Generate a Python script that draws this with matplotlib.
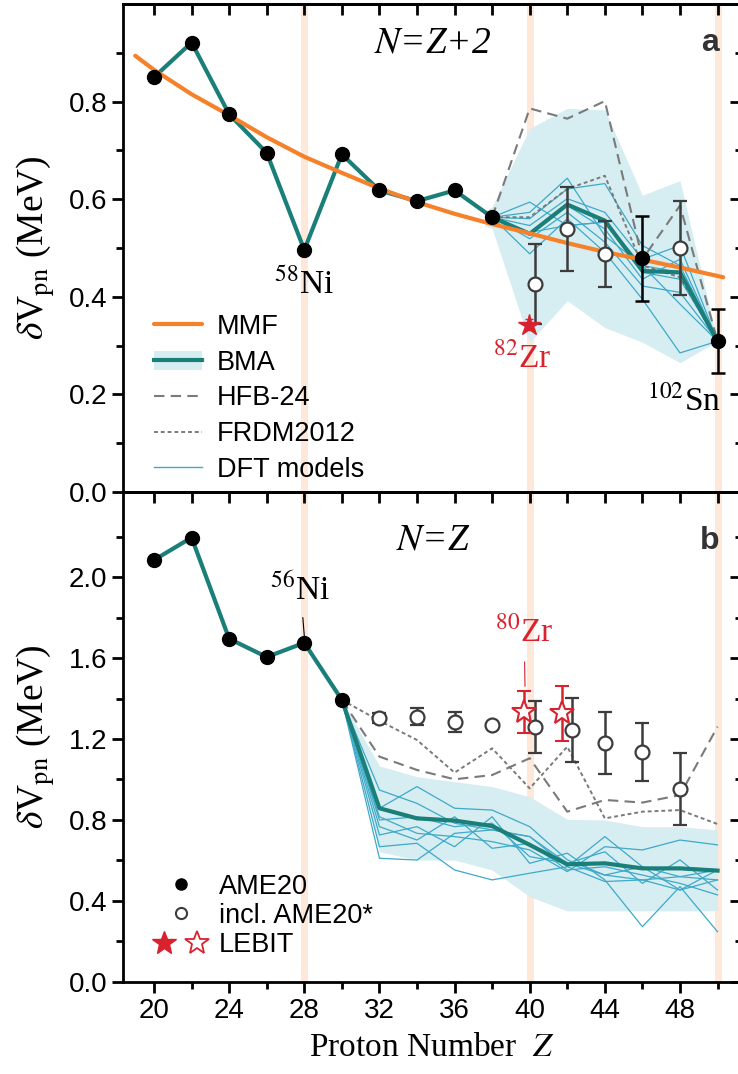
import numpy as np
import matplotlib.pyplot as plt
from matplotlib.patches import Patch
from matplotlib.lines import Line2D
from matplotlib.legend_handler import HandlerTuple
from matplotlib.ticker import MultipleLocator, FixedLocator

plt.rcParams['font.family'] = ['Liberation Sans', 'DejaVu Sans']
plt.rcParams['mathtext.fontset'] = 'stix'

# ---------------- panel a : N = Z + 2 ----------------
z_ame_a = [20, 22, 24, 26, 28, 30, 32, 34, 36, 38]
v_ame_a = [0.850, 0.921, 0.774, 0.695, 0.496, 0.692, 0.618, 0.596, 0.618, 0.563]
z_ame_a_err = [46, 50]
v_ame_a_err = [0.479, 0.309]
e_ame_a_err = [0.087, 0.066]
z_open_a = [40.28, 42, 44, 48]
v_open_a = [0.426, 0.538, 0.488, 0.500]
e_open_a = [0.082, 0.086, 0.067, 0.097]
z_lebit_a = [39.95]
v_lebit_a = [0.343]
e_lebit_a = [0.012]

z_bma_a = [20, 22, 24, 26, 28, 30, 32, 34, 36, 38, 40, 42, 44, 46, 48, 50]
v_bma_a = [0.850, 0.921, 0.774, 0.695, 0.496, 0.692, 0.618, 0.596, 0.618, 0.563,
           0.529, 0.589, 0.556, 0.453, 0.450, 0.309]
z_band_a = [37.6, 38, 40, 42, 44, 46, 48, 50]
lo_band_a = [0.545, 0.540, 0.307, 0.392, 0.337, 0.307, 0.265, 0.309]
hi_band_a = [0.575, 0.585, 0.745, 0.786, 0.783, 0.608, 0.638, 0.309]

z_mmf = [19.0, 20, 22, 24, 26, 28, 30, 32, 34, 36, 38, 40, 42, 44, 46, 48, 50.3]
v_mmf = [0.894, 0.865, 0.815, 0.772, 0.727, 0.687, 0.654, 0.622, 0.594, 0.570,
         0.549, 0.530, 0.510, 0.492, 0.476, 0.460, 0.440]

z_mod_a = [38, 40, 42, 44, 46, 48, 50]
hfb_a = [0.563, 0.786, 0.765, 0.801, 0.477, 0.587, 0.309]
frdm_a = [0.563, 0.563, 0.621, 0.648, 0.464, 0.440, 0.309]
dft_a = [
    [0.563, 0.594, 0.546, 0.553, 0.450, 0.436, 0.309],
    [0.563, 0.573, 0.643, 0.525, 0.464, 0.450, 0.309],
    [0.563, 0.560, 0.621, 0.632, 0.505, 0.464, 0.309],
    [0.563, 0.546, 0.601, 0.573, 0.477, 0.505, 0.309],
    [0.563, 0.532, 0.587, 0.539, 0.436, 0.477, 0.309],
    [0.563, 0.519, 0.573, 0.512, 0.422, 0.409, 0.309],
    [0.563, 0.488, 0.560, 0.491, 0.395, 0.285, 0.309],
    [0.563, 0.532, 0.546, 0.553, 0.464, 0.385, 0.309],
]

# ---------------- panel b : N = Z ----------------
z_ame_b = [20, 22, 24, 26, 28, 30]
v_ame_b = [2.084, 2.195, 1.695, 1.605, 1.675, 1.393]
z_open_b = [32, 34, 36, 38, 40.28, 42.25, 44, 46, 48]
v_open_b = [1.302, 1.310, 1.285, 1.269, 1.258, 1.244, 1.179, 1.137, 0.953]
e_open_b = [0.025, 0.042, 0.050, 0.0, 0.128, 0.158, 0.153, 0.142, 0.177]
z_lebit_b = [39.7, 41.7]
v_lebit_b = [1.335, 1.327]
e_lebit_b = [0.103, 0.135]

z_bma_b = [20, 22, 24, 26, 28, 30, 32, 34, 36, 38, 40, 42, 44, 46, 48, 50]
v_bma_b = [2.084, 2.195, 1.695, 1.605, 1.675, 1.393, 0.858, 0.808, 0.797, 0.770,
           0.677, 0.581, 0.586, 0.561, 0.561, 0.550]
z_mod_b = [30, 32, 34, 36, 38, 40, 42, 44, 46, 48, 50]
lo_band_b = [1.393, 0.643, 0.602, 0.602, 0.553, 0.421, 0.351, 0.351, 0.351, 0.351, 0.351]
hi_band_b = [1.393, 1.067, 1.014, 0.989, 0.965, 0.915, 0.803, 0.800, 0.767, 0.767, 0.751]
hfb_b = [1.393, 1.113, 1.047, 1.001, 1.022, 1.105, 0.841, 0.899, 0.886, 0.923, 1.261]
frdm_b = [1.393, 1.290, 1.195, 1.034, 1.154, 0.956, 1.162, 0.808, 0.841, 0.849, 0.780]
dft_b = [
    [1.393, 0.948, 0.882, 0.784, 0.751, 0.718, 0.569, 0.718, 0.569, 0.454, 0.504],
    [1.393, 0.858, 0.965, 0.858, 0.849, 0.767, 0.603, 0.528, 0.504, 0.520, 0.553],
    [1.393, 0.816, 0.734, 0.718, 0.693, 0.652, 0.545, 0.668, 0.652, 0.701, 0.677],
    [1.393, 0.800, 0.816, 0.767, 0.784, 0.619, 0.586, 0.643, 0.487, 0.603, 0.454],
    [1.393, 0.767, 0.701, 0.816, 0.660, 0.685, 0.553, 0.569, 0.528, 0.487, 0.430],
    [1.393, 0.726, 0.767, 0.668, 0.816, 0.586, 0.636, 0.504, 0.273, 0.471, 0.248],
    [1.393, 0.668, 0.685, 0.553, 0.504, 0.537, 0.569, 0.496, 0.504, 0.454, 0.553],
    [1.393, 0.611, 0.602, 0.734, 0.751, 0.718, 0.586, 0.528, 0.569, 0.520, 0.504],
]

magic_z = [28, 40, 50]
yticks_a = [0.0, 0.2, 0.4, 0.6, 0.8]
yminor_a = [0.1, 0.3, 0.5, 0.7, 0.9]
yticks_b = [0.0, 0.4, 0.8, 1.2, 1.6, 2.0]
yminor_b = [0.2, 0.6, 1.0, 1.4, 1.8, 2.2]

# colours
c_bma = '#1b7f79'
c_band = '#d6edf1'
c_dft = '#3fa9c9'
c_mmf = '#f5822a'
c_mod = '#7a7a7a'
c_red = '#d8232f'
c_magic = '#fde8da'
c_err = '#3c3c3c'

serif = 'Liberation Serif'
fs = 20
fs_leg = 19.5

fig = plt.figure(figsize=(7.38, 10.74), dpi=100)
ax_a = fig.add_axes([0.1667, 0.5419, 0.8374, 0.4544])
ax_b = fig.add_axes([0.1667, 0.0857, 0.8374, 0.4562], sharex=ax_a)

for ax in (ax_a, ax_b):
    for zm in magic_z:
        ax.axvline(zm, color=c_magic, lw=5, zorder=0)

# ---- panel a ----
ax_a.fill_between(z_band_a, lo_band_a, hi_band_a, color=c_band, lw=0, zorder=1)
for d in dft_a:
    ax_a.plot(z_mod_a, d, color=c_dft, lw=0.9, zorder=2)
ax_a.plot(z_mod_a, hfb_a, color=c_mod, lw=1.5, ls=(0, (5, 3)), zorder=2)
ax_a.plot(z_mod_a, frdm_a, color=c_mod, lw=1.4, ls=(0, (2, 1.5)), zorder=2)
ax_a.plot(z_bma_a, v_bma_a, color=c_bma, lw=3, zorder=3)
ax_a.plot(z_mmf, v_mmf, color=c_mmf, lw=3, zorder=4, solid_capstyle='round')
ax_a.errorbar(z_open_a, v_open_a, yerr=e_open_a, fmt='o', ms=10, mfc='white',
              mec=c_err, mew=1.6, ecolor=c_err, elinewidth=1.8, capsize=5,
              capthick=1.8, zorder=5)
ax_a.errorbar(z_ame_a_err, v_ame_a_err, yerr=e_ame_a_err, fmt='o', ms=10, color='black',
              elinewidth=1.8, capsize=5, capthick=1.8, zorder=6)
ax_a.plot(z_ame_a, v_ame_a, 'o', ms=10, color='black', zorder=6)
ax_a.errorbar(z_lebit_a, v_lebit_a, yerr=e_lebit_a, fmt='*', ms=16, color=c_red,
              elinewidth=1.5, capsize=3, zorder=7)

ax_a.text(34.85, 0.92, r'$N$=Z+2', fontsize=27, family=serif, ha='center', va='center',
          style='italic')
ax_a.text(49.6, 0.92, 'a', fontsize=23, fontweight='bold', color='#333333',
          ha='center', va='center')
ax_a.text(28.0, 0.425, r'$^{58}$Ni', fontsize=24, family=serif, ha='center', va='center')
ax_a.text(39.6, 0.275, r'$^{82}$Zr', fontsize=24, family=serif, ha='center', va='center',
          color=c_red)
ax_a.text(50.2, 0.185, r'$^{102}$Sn', fontsize=24, family=serif, ha='right', va='center')

h_band = Patch(facecolor=c_band, edgecolor='none')
h_bma = Line2D([], [], color=c_bma, lw=3)
handles_a = [Line2D([], [], color=c_mmf, lw=3, solid_capstyle='round'),
             (h_band, h_bma),
             Line2D([], [], color=c_mod, lw=1.5, ls=(0, (5, 3))),
             Line2D([], [], color=c_mod, lw=1.4, ls=(0, (2, 1.5))),
             Line2D([], [], color=c_dft, lw=1)]
labels_a = ['MMF', 'BMA', 'HFB-24', 'FRDM2012', 'DFT models']
ax_a.legend(handles_a, labels_a, loc='lower left', bbox_to_anchor=(0.02, -0.02),
            frameon=False, fontsize=fs_leg, handlelength=1.75, handletextpad=0.55,
            labelspacing=0.36, borderpad=0.2,
            handler_map={tuple: HandlerTuple(ndivide=1)})

ax_a.set_ylim(0, 1.0)
ax_a.yaxis.set_major_locator(FixedLocator(yticks_a))
ax_a.yaxis.set_minor_locator(FixedLocator(yminor_a))
ax_a.set_ylabel(r'$\delta$V$_{\rm pn}$ (MeV)', fontsize=27, family=serif, labelpad=8)

# ---- panel b ----
ax_b.fill_between(z_mod_b, lo_band_b, hi_band_b, color=c_band, lw=0, zorder=1)
for d in dft_b:
    ax_b.plot(z_mod_b, d, color=c_dft, lw=0.9, zorder=2)
ax_b.plot(z_mod_b, hfb_b, color=c_mod, lw=1.5, ls=(0, (5, 3)), zorder=2)
ax_b.plot(z_mod_b, frdm_b, color=c_mod, lw=1.4, ls=(0, (2, 1.5)), zorder=2)
ax_b.plot(z_bma_b, v_bma_b, color=c_bma, lw=3, zorder=3)
ax_b.errorbar(z_open_b, v_open_b, yerr=e_open_b, fmt='o', ms=10, mfc='white',
              mec=c_err, mew=1.6, ecolor=c_err, elinewidth=1.8, capsize=5,
              capthick=1.8, zorder=5)
ax_b.plot(z_ame_b, v_ame_b, 'o', ms=10, color='black', zorder=6)
ax_b.errorbar(z_lebit_b, v_lebit_b, yerr=e_lebit_b, fmt='*', ms=18, mfc='white',
              mec=c_red, mew=1.5, ecolor=c_red, elinewidth=1.8, capsize=5,
              capthick=1.8, zorder=7)

ax_b.text(34.85, 2.18, r'$N$=Z', fontsize=27, family=serif, ha='center', va='center',
          style='italic')
ax_b.text(49.6, 2.18, 'b', fontsize=23, fontweight='bold', color='#333333',
          ha='center', va='center')
ax_b.annotate(r'$^{56}$Ni', xy=(28, 1.71), xytext=(27.8, 1.94), fontsize=24,
              family=serif, ha='center', va='center',
              arrowprops=dict(arrowstyle='-', color='black', lw=0.8, shrinkA=6, shrinkB=0))
ax_b.annotate(r'$^{80}$Zr', xy=(39.75, 1.46), xytext=(39.7, 1.73), fontsize=24,
              family=serif, ha='center', va='center', color=c_red,
              arrowprops=dict(arrowstyle='-', color=c_red, lw=0.8, shrinkA=8, shrinkB=0))

handles_b = [Line2D([], [], marker='o', ls='none', ms=8, color='black'),
             Line2D([], [], marker='o', ls='none', ms=8, mfc='white', mec=c_err, mew=1.5),
             (Line2D([], [], marker='*', ls='none', ms=18, color=c_red),
              Line2D([], [], marker='*', ls='none', ms=18, mfc='white', mec=c_red, mew=1.3))]
labels_b = ['AME20', 'incl. AME20*', 'LEBIT']
ax_b.legend(handles_b, labels_b, loc='lower left', bbox_to_anchor=(0.01, 0.01),
            frameon=False, fontsize=fs_leg, handlelength=2.4, handletextpad=0.2,
            labelspacing=0.12, borderpad=0.2,
            handler_map={tuple: HandlerTuple(ndivide=None, pad=0.05)})

ax_b.set_ylim(0, 2.42)
ax_b.yaxis.set_major_locator(FixedLocator(yticks_b))
ax_b.yaxis.set_minor_locator(FixedLocator(yminor_b))
ax_b.set_ylabel(r'$\delta$V$_{\rm pn}$ (MeV)', fontsize=27, family=serif, labelpad=8)
ax_b.set_xlabel('Proton Number  $Z$', fontsize=24, family=serif, labelpad=6)

ax_b.set_xlim(18.35, 51.25)
ax_b.xaxis.set_major_locator(MultipleLocator(4))
ax_b.xaxis.set_minor_locator(MultipleLocator(2))

# left and bottom ticks point out, top and right ticks point in
for ax in (ax_a, ax_b):
    for s in ax.spines.values():
        s.set_linewidth(2)
    ax.tick_params(axis='both', which='both', top=False, right=False, direction='out',
                   width=2, labelsize=fs)
    ax.tick_params(axis='both', which='major', length=8)
    ax.tick_params(axis='both', which='minor', length=5)
    sx = ax.secondary_xaxis('top')
    sx.xaxis.set_major_locator(MultipleLocator(4))
    sx.xaxis.set_minor_locator(MultipleLocator(2))
    sx.tick_params(axis='x', which='both', direction='in', labeltop=False, width=2, length=8)
    sx.spines['top'].set_linewidth(2)
    sy = ax.secondary_yaxis('right')
    sy.yaxis.set_major_locator(ax.yaxis.get_major_locator())
    sy.yaxis.set_minor_locator(ax.yaxis.get_minor_locator())
    sy.tick_params(axis='y', which='both', direction='in', labelright=False, width=2)
    sy.tick_params(axis='y', which='major', length=8)
    sy.tick_params(axis='y', which='minor', length=4)
    sy.spines['right'].set_linewidth(2)
plt.setp(ax_a.get_xticklabels(), visible=False)

fig.savefig('out.png', dpi=100)
